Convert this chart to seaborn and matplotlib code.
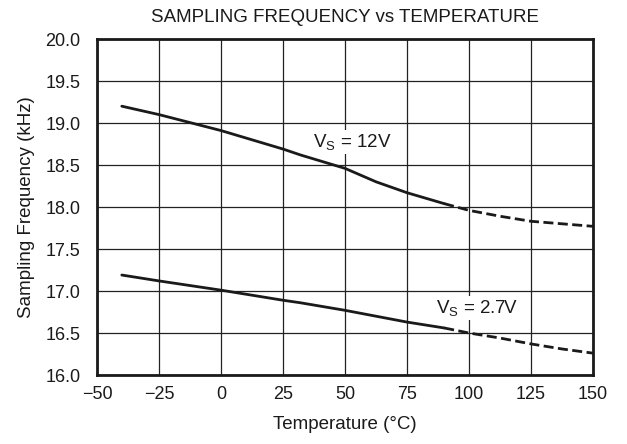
import matplotlib
matplotlib.use("Agg")
import matplotlib.pyplot as plt
import seaborn as sns
import pandas as pd

# Data
temp = [-40, -25, 0, 25, 32, 50, 62.5, 75, 90, 100, 112.5, 125, 137.5, 150]
freq_12v = [19.20, 19.10, 18.91, 18.69, 18.62, 18.46, 18.30, 18.17, 18.04,
            17.96, 17.89, 17.83, 17.80, 17.77]
freq_27v = [17.19, 17.12, 17.01, 16.89, 16.86, 16.77, 16.70, 16.63, 16.56,
            16.50, 16.44, 16.37, 16.31, 16.26]
solid_end = 90  # solid up to here, dashed afterwards

x_ticks = [-50, -25, 0, 25, 50, 75, 100, 125, 150]
x_tick_labels = ["\u221250", "\u221225", "0", "25", "50", "75", "100", "125", "150"]
y_ticks = [16.0, 16.5, 17.0, 17.5, 18.0, 18.5, 19.0, 19.5, 20.0]

sns.set_style("white")
plt.rcParams['font.family'] = ['Liberation Sans', 'DejaVu Sans']
plt.rcParams['mathtext.fontset'] = 'custom'
plt.rcParams['mathtext.rm'] = 'Liberation Sans'
plt.rcParams['mathtext.it'] = 'Liberation Sans'

ink = "#1a1a1a"
fig = plt.figure(figsize=(6.27, 4.44), dpi=100)
ax = fig.add_axes([97/627, 1 - 375/444, (593-97)/627, (375-39)/444])

for name, vals in [("12V", freq_12v), ("2.7V", freq_27v)]:
    df = pd.DataFrame({"T": temp, "F": vals})
    solid = df[df["T"] <= solid_end]
    dashed = df[df["T"] >= solid_end]
    sns.lineplot(data=solid, x="T", y="F", ax=ax, color=ink, lw=2.0, sort=True)
    sns.lineplot(data=dashed, x="T", y="F", ax=ax, color=ink, lw=2.0,
                 linestyle=(0, (3.6, 1.6)), sort=True)

ax.set_xlim(-50, 150)
ax.set_ylim(16.0, 20.0)
ax.set_xticks(x_ticks)
ax.set_xticklabels(x_tick_labels)
ax.set_yticks(y_ticks)
ax.set_yticklabels([f"{v:.1f}" for v in y_ticks])
ax.grid(True, color="#222222", lw=0.9)
ax.set_axisbelow(True)
for s in ax.spines.values():
    s.set_visible(True)
    s.set_color(ink)
    s.set_linewidth(2.0)
ax.tick_params(length=0, labelsize=13, colors=ink)
ax.tick_params(axis="x", pad=8)
ax.tick_params(axis="y", pad=12)

ax.set_xlabel("Temperature (\u00b0C)", fontsize=13.5, color=ink, labelpad=9)
ax.set_ylabel("Sampling Frequency (kHz)", fontsize=13.5, color=ink, labelpad=7)
ax.set_title("SAMPLING FREQUENCY vs TEMPERATURE", fontsize=13.5, color=ink, pad=12)

box = dict(facecolor="white", edgecolor="none", pad=1.5)
ax.text(53.0, 18.77, "V$_\\mathrm{S}$ = 12V", fontsize=13.5, ha="center", va="center",
        color=ink, bbox=box)
ax.text(103.0, 16.80, "V$_\\mathrm{S}$ = 2.7V", fontsize=13.5, ha="center", va="center",
        color=ink, bbox=box)

fig.savefig("out.png", dpi=100)
